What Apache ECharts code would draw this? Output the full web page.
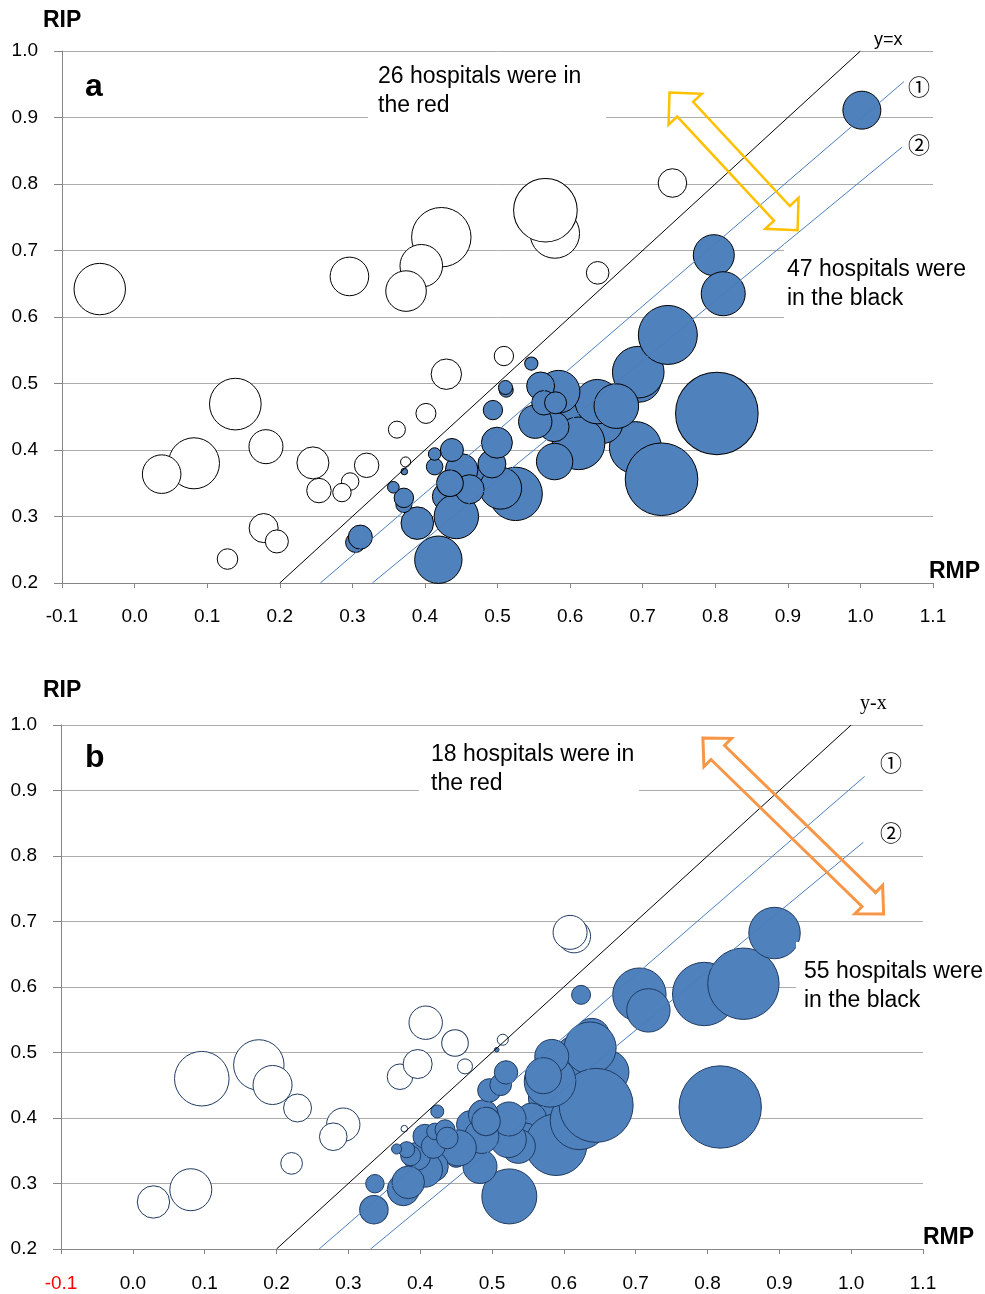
<!DOCTYPE html>
<html><head><meta charset="utf-8">
<script src="https://cdn.jsdelivr.net/npm/echarts@6/dist/echarts.min.js"></script>
<style>html,body{margin:0;padding:0;background:#fff}#c{width:985px;height:1294px}</style>
</head><body><div id="c"></div>
<script>
// ---- axis ranges / ticks ----
const xRange = [-0.1, 1.1];
const yRange = [0.2, 1.0];
const tickStep = 0.1;

// ---- panel a: [RMP, RIP, hospital scale] ----
const redA = [
  [-0.048,0.642,38.9],[0.296,0.661,21.9],[0.4226,0.720,51.9],[0.395,0.677,26.7],[0.374,0.639,24.2],
  [0.579,0.7255,35.9],[0.566,0.7605,59.5],[0.741,0.8015,12.0],[0.638,0.6664,7.5],
  [0.1388,0.469,39.2],[0.0818,0.380,38.3],[0.0373,0.3637,21.9],[0.181,0.405,17.0],
  [0.2457,0.3806,15.1],[0.254,0.339,8.8],[0.297,0.3526,4.5],[0.2857,0.336,5.0],[0.3197,0.377,8.8],
  [0.1778,0.2826,12.4],[0.196,0.2625,7.8],[0.128,0.236,6.2],[0.4295,0.514,13.6],[0.4014,0.455,5.9],
  [0.3614,0.4306,4.25],[0.3734,0.382,1.5],[0.5088,0.5413,5.5]
];
const blackA = [
  [0.62,0.44,23.5],[0.48,0.36,8.5],[0.435,0.32,11.5],[0.60,0.45,11.5],
  [0.8022,0.455,100.3],[0.690,0.4036,39.8],[0.726,0.356,77.5],[0.695,0.505,28.5],[0.6939,0.517,39.2],
  [0.7347,0.573,51.2],[0.645,0.44,23.5],[0.6117,0.410,40.7],[0.6375,0.4727,29.0],[0.6637,0.466,29.3],
  [0.525,0.334,41.9],[0.5043,0.3426,25.9],[0.578,0.435,13.2],[0.5787,0.3826,19.5],[0.5842,0.4877,26.7],
  [0.552,0.4426,16.4],[0.5594,0.4963,11.5],[0.564,0.471,8.8],[0.580,0.471,7.1],[0.5466,0.530,2.6],
  [0.512,0.49,2.9],[0.511,0.494,2.9],[0.4923,0.379,11.5],[0.4992,0.411,14.1],[0.4937,0.460,5.5],
  [0.4185,0.235,33.0],[0.4295,0.330,11.5],[0.4433,0.300,29.0],[0.4506,0.370,15.6],[0.4616,0.341,12.4],
  [0.4345,0.350,10.4],[0.4372,0.400,7.8],[0.4134,0.375,4.05],[0.4134,0.394,2.3],[0.3895,0.290,15.6],
  [0.371,0.318,3.8],[0.371,0.328,5.6],[0.3565,0.344,2.0],[0.3716,0.3676,0.64],[0.3045,0.261,5.9],
  [0.311,0.269,8.5],[0.798,0.693,24.7],[0.811,0.635,28.5],[1.002,0.911,21.2]
];
const lineYxA = [[0.2,0.2],[1.0,1.0]];
const line1A = [[0.256,0.2],[1.06,0.954]];
const line2A = [[0.3276,0.2],[1.0576,0.8556]];
const arrowA = [[0.737,0.9377,0.9134,0.7305]];

// ---- panel b ----
const redB = [
  [0.6143,0.6773,16.0],[0.6087,0.6834,17.0],[0.096,0.46,43.8],[0.1754,0.481,37.4],[0.1945,0.4504,22.4],
  [0.2293,0.4153,11.5],[0.2929,0.3898,16.4],[0.279,0.3714,11.2],[0.221,0.3307,6.9],[0.0287,0.2718,15.4],
  [0.0807,0.2905,25.9],[0.4077,0.5455,16.4],[0.4485,0.5145,10.4],[0.3719,0.463,9.6],[0.3965,0.4824,12.4],
  [0.4624,0.4788,3.3],[0.3779,0.3837,0.64],[0.515,0.5195,1.8]
];
const blackB = [
  [0.60,0.45,23.5],[0.66,0.47,28.5],[0.5786,0.4305,23.5],[0.555,0.40,13.2],[0.545,0.37,13.2],
  [0.503,0.38,8.5],[0.47,0.36,8.5],[0.45,0.34,5.9],[0.43,0.35,11.5],[0.47,0.39,11.5],
  [0.8177,0.4168,99.8],[0.7954,0.5893,59.1],[0.850,0.605,75.0],[0.7052,0.5883,41.9],[0.7177,0.5643,27.7],
  [0.8933,0.6824,38.9],[0.624,0.588,5.3],[0.6203,0.489,36.8],[0.639,0.5246,19.1],[0.6366,0.5069,39.8],
  [0.5892,0.3592,55.8],[0.6217,0.3963,50.2],[0.645,0.4193,80.5],[0.5808,0.456,39.2],[0.5832,0.494,17],
  [0.5715,0.4646,19.1],[0.5241,0.2803,44.5],[0.5367,0.3567,17],[0.5227,0.367,19.1],[0.5237,0.3985,17],
  [0.4833,0.326,17],[0.4857,0.372,17.2],[0.488,0.405,13.2],[0.4917,0.3948,11.9],[0.4963,0.4422,8.05],
  [0.5121,0.4508,6.9],[0.5195,0.4696,8.05],[0.5066,0.5043,0.31],[0.4531,0.3542,19.1],[0.4183,0.326,13.2],
  [0.4067,0.3211,18],[0.395,0.3414,11.5],[0.3765,0.2905,15.1],[0.3834,0.3017,15.6],[0.3868,0.3424,5.9],
  [0.3812,0.3516,3.8],[0.3672,0.3527,1.5],[0.4067,0.372,8.5],[0.4183,0.3567,8.5],[0.4206,0.3795,4.05],
  [0.4346,0.382,5.9],[0.4378,0.3695,6.9],[0.4238,0.410,2.5],[0.3356,0.26,11.9],[0.337,0.2997,5.0]
];
const lineYxB = [[0.2,0.2],[1.0,1.0]];
const line1B = [[0.2594,0.2],[1.0187,0.9215]];
const line2B = [[0.331,0.2],[1.017,0.821]];
const arrowB = [[0.7936,0.980,1.0452,0.7115]];

// ---- rendering ----
const FONT = '"Liberation Sans", Arial, sans-serif';
const BUBBLE_K = 17;
const fmt = v => (Math.round(v*10)/10).toFixed(1);

function xAxisCfg(i, redNeg, margin) {
  return {
    gridIndex: i, type: 'value', min: xRange[0], max: xRange[1], interval: tickStep,
    axisLine: {show: true, onZero: false, lineStyle: {color: '#868686', width: 1}},
    axisTick: {show: true, length: 5, lineStyle: {color: '#868686'}},
    splitLine: {show: false},
    axisLabel: {
      margin: margin, fontSize: 19, fontFamily: FONT, color: '#000',
      formatter: v => (redNeg && v < 0) ? '{r|' + fmt(v) + '}' : fmt(v),
      rich: {r: {color: '#ff0000', fontSize: 19, fontFamily: FONT}}
    }
  };
}
function yAxisCfg(i) {
  return {
    gridIndex: i, type: 'value', min: yRange[0], max: yRange[1], interval: tickStep,
    axisLine: {show: true, onZero: false, lineStyle: {color: '#868686', width: 1}},
    axisTick: {show: true, length: 8, lineStyle: {color: '#868686'}},
    splitLine: {show: true, lineStyle: {color: '#ababab', width: 1}},
    axisLabel: {margin: 24, fontSize: 19, fontFamily: FONT, color: '#000', formatter: fmt}
  };
}
function bubbles(i, data, fill, border) {
  return {
    type: 'scatter', xAxisIndex: i, yAxisIndex: i, data: data, z: 2,
    symbolSize: v => 2 * Math.sqrt(v[2] * BUBBLE_K),
    itemStyle: {color: fill, borderColor: border, borderWidth: 1, opacity: 1},
    emphasis: {disabled: true}, silent: true
  };
}
function refLine(i, data, color) {
  return {
    type: 'line', xAxisIndex: i, yAxisIndex: i, data: data, symbol: 'none', z: 5,
    lineStyle: {color: color, width: 1}, silent: true
  };
}
function arrow(i, data, color, lw, hl, hw, w) {
  return {
    type: 'custom', xAxisIndex: i, yAxisIndex: i, data: data, z: 6, silent: true,
    encode: {x: [0, 2], y: [1, 3]},
    renderItem: function (params, api) {
      const a = api.coord([api.value(0), api.value(1)]);
      const b = api.coord([api.value(2), api.value(3)]);
      const dx = b[0]-a[0], dy = b[1]-a[1], L = Math.hypot(dx, dy);
      const u = [dx/L, dy/L], n = [u[1], -u[0]];
      const p = (base, s, t) => [base[0] + u[0]*s + n[0]*t, base[1] + u[1]*s + n[1]*t];
      const pts = [a, p(a,hl,hw), p(a,hl,w), p(b,-hl,w), p(b,-hl,hw), b,
                   p(b,-hl,-hw), p(b,-hl,-w), p(a,hl,-w), p(a,hl,-hw)];
      return {type: 'polygon', shape: {points: pts},
              style: {fill: 'none', stroke: color, lineWidth: lw, lineJoin: 'miter'}};
    }
  };
}
function txt(x, y, text, font, extra) {
  return Object.assign({type: 'text', x: x, y: y, z: 110,
    style: Object.assign({text: text, font: font, fill: '#000', textAlign: 'left', textVerticalAlign: 'middle'}, extra || {})});
}
function box(x, y, w, h) {
  return {type: 'rect', z: 100, shape: {x: x, y: y, width: w, height: h}, style: {fill: '#fff'}};
}

const chart = echarts.init(document.getElementById('c'), null, {renderer: 'canvas'});
const F23 = '23px ' + FONT;
const B23 = 'bold 23px ' + FONT;
const CJK = '22px "Noto Sans CJK JP", sans-serif';
chart.setOption({
  animation: false,
  backgroundColor: '#fff',
  grid: [
    {left: 62, top: 51, width: 871, height: 532},
    {left: 61, top: 725, width: 862, height: 524}
  ],
  xAxis: [xAxisCfg(0, false, 24), xAxisCfg(1, true, 25)],
  yAxis: [yAxisCfg(0), yAxisCfg(1)],
  series: [
    bubbles(0, redA, '#ffffff', '#000000'),
    bubbles(0, blackA, '#4f81bd', '#000000'),
    refLine(0, lineYxA, '#000000'),
    refLine(0, line1A, '#4a7ebb'),
    refLine(0, line2A, '#4a7ebb'),
    arrow(0, arrowA, '#ffc000', 2.5, 23, 22.7, 10.8),
    bubbles(1, redB, '#ffffff', '#1f3a60'),
    bubbles(1, blackB, '#4f81bd', '#1f3a60'),
    refLine(1, lineYxB, '#000000'),
    refLine(1, line1B, '#4a7ebb'),
    refLine(1, line2B, '#4a7ebb'),
    arrow(1, arrowB, '#f79646', 3, 20.7, 19.8, 9.75)
  ],
  graphic: [
    box(368, 60, 238, 68),
    box(784, 244, 201, 78),
    box(419, 736, 220, 64),
    box(796, 942, 189, 80),
    txt(43, 21, 'RIP', B23),
    txt(43, 691, 'RIP', B23),
    txt(929, 572, 'RMP', B23),
    txt(923, 1238, 'RMP', B23),
    txt(85, 87, 'a', 'bold 32px ' + FONT),
    txt(85, 758, 'b', 'bold 32px ' + FONT),
    txt(378, 77, '26 hospitals were in', F23),
    txt(378, 106, 'the red', F23),
    txt(787, 270, '47 hospitals were', F23),
    txt(787, 299, 'in the black', F23),
    txt(431, 755, '18 hospitals were in', F23),
    txt(431, 784, 'the red', F23),
    txt(804, 972, '55 hospitals were', F23),
    txt(804, 1001, 'in the black', F23),
    txt(874, 40, 'y=x', '18px ' + FONT),
    txt(860, 704, 'y-x', '20px "Liberation Serif", "Times New Roman", serif'),
    txt(919, 87, '①', CJK, {textAlign: 'center'}),
    txt(919, 145, '②', CJK, {textAlign: 'center'}),
    txt(891, 763, '①', CJK, {textAlign: 'center'}),
    txt(891, 833, '②', CJK, {textAlign: 'center'})
  ]
});
</script>
</body></html>
